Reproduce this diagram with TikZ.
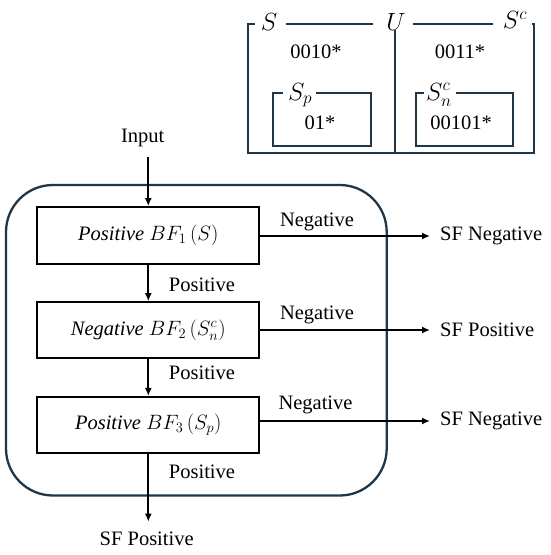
\documentclass[tikz,border=0pt]{standalone}
\usepackage{fontspec}
\setmainfont{Liberation Serif}
\usetikzlibrary{arrows.meta}
\definecolor{navy}{RGB}{30,54,72}
\begin{document}
\begin{tikzpicture}[x=1pt,y=-1pt,
  every node/.style={font=\fontsize{20.5}{24}\selectfont, inner sep=0pt},
  bfbox/.style={draw=black, line width=2.2pt, minimum width=222pt, minimum height=56pt},
  frame/.style={draw=navy, line width=2.3pt},
  arr/.style={-{Latex[length=8pt,width=7pt]}, line width=1.7pt},
  big/.style={font=\fontsize{23}{27}\selectfont}]
\useasboundingbox (0,0) rectangle (550,555);
% container
\node[frame, rounded corners=47pt, minimum width=380.7pt, minimum height=310.5pt] (cont) at (196.35,340.25) {};
% boxes
\node[bfbox, minimum height=57pt] (b1) at (148.3,235.7) {$\mathit{Positive}\ BF_1\,(S)$\hspace{24pt}};
\node[bfbox] (b2) at (148.3,330.3) {$\mathit{Negative}\ BF_2\,(S_n^c)$\hspace{18pt}};
\node[bfbox] (b3) at (148.3,425) {$\mathit{Positive}\ BF_3\,(S_p)$\hspace{12pt}};
% input
\node (in) at (142.7,138) {Input};
\coordinate (s0) at (148.3,157);
\draw[arr] (s0) -- (b1.north);
% outputs
\node[anchor=west] (o1) at (440,236) {SF Negative};
\node[anchor=west] (o2) at (440,330) {SF Positive};
\node[anchor=west] (o3) at (440,421) {SF Negative};
\node (o4) at (146.7,539.3) {SF Positive};
\coordinate (e4) at (148.3,521.7);
\draw[arr, shorten >=10pt] (b1.east |- o1.west) -- (o1.west);
\draw[arr, shorten >=10pt] (b2.east |- o2.west) -- (o2.west);
\draw[arr, shorten >=10pt] (b3.east |- o3.west) -- (o3.west);
\draw[arr] (b1.south) -- (b2.north);
\draw[arr] (b2.south) -- (b3.north);
\draw[arr] (b3.south) -- (e4);
% labels
\node (n1) at (317,222) {Negative};
\node (n2) at (317,315) {Negative};
\node (n3) at (315.5,405) {Negative};
\node (p1) at (202,285) {Positive};
\node (p2) at (202,373) {Positive};
\node (p3) at (202,471.7) {Positive};
% top frame
\node[big] (S) at (269,22) {$S$};
\node[big] (U) at (396,22) {$U$};
\node[big] (Sc) at (515,20) {$S^c$};
\draw[frame] (255,24) -- (248.3,24) -- (248.3,153.3) -- (534.3,153.3) -- (534.3,24) -- (532,24);
\draw[frame] (286,24) -- (373,24);
\draw[frame] (413,24) -- (493,24);
\draw[frame] (395,30) -- (395,153.3);
\node (t1) at (316,51.7) {0010*};
\node (t2) at (460,51.7) {0011*};
% inner boxes
\draw[frame] (283,93.3) -- (273.3,93.3) -- (273.3,145.7) -- (370.7,145.7) -- (370.7,93.3) -- (316,93.3);
\node[big, anchor=base west] (Sp) at (288,100) {$S_p$};
\node (t3) at (320,123) {01*};
\draw[frame] (424,93.3) -- (416,93.3) -- (416,145.7) -- (512.7,145.7) -- (512.7,93.3) -- (456,93.3);
\node[big, anchor=base west] (Snc) at (426,100) {$S_n^c$};
\node (t4) at (461,122.7) {00101*};
\end{tikzpicture}
\end{document}
